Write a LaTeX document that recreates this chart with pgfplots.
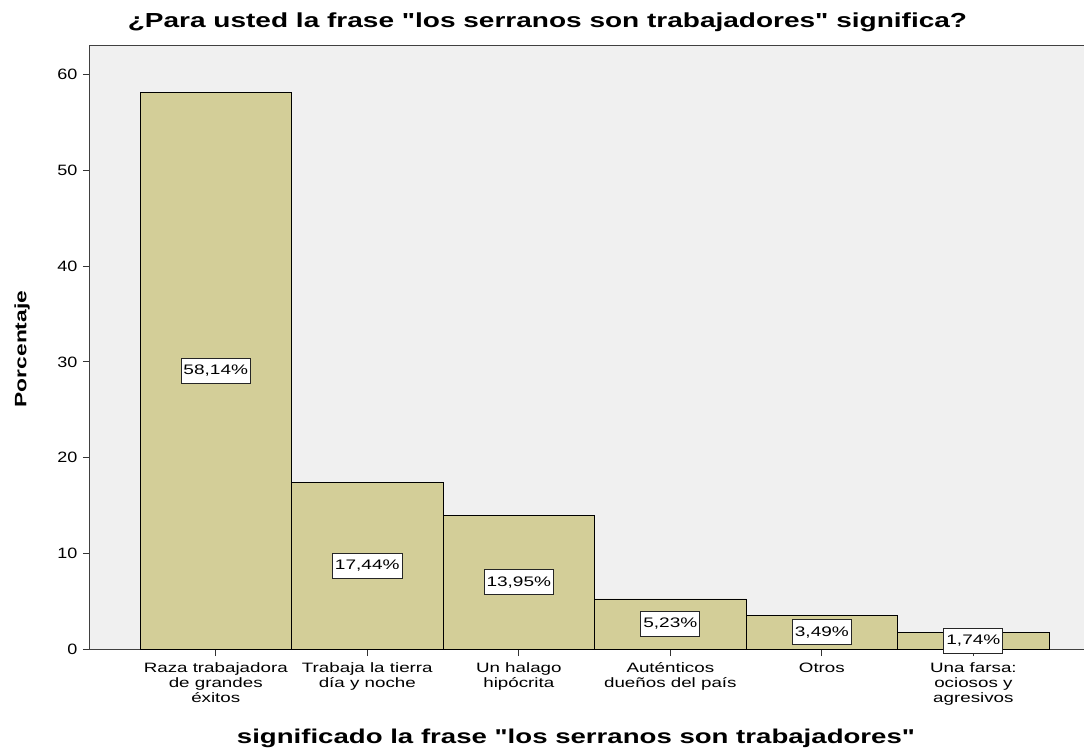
\documentclass[border=0pt]{standalone}
\usepackage{fontspec}
\usepackage{pgfplots}
\pgfplotsset{compat=1.18}
\newfontfamily\tickf[FakeStretch=1.2]{Liberation Sans}
\newfontfamily\catf[FakeStretch=1.38]{Liberation Sans}
\newfontfamily\boldf[FakeStretch=1.38]{Liberation Sans}
\definecolor{barcol}{RGB}{211,206,152}
\definecolor{bgcol}{RGB}{240,240,240}
\begin{document}
\begin{tikzpicture}
\useasboundingbox (-90pt,-104pt) rectangle (994pt,649pt);
\begin{axis}[
  at={(0pt,0pt)}, anchor=south west,
  scale only axis, width=994pt, height=603pt,
  xmin=-0.83, xmax=5.73, ymin=0, ymax=63,
  axis background/.style={fill=bgcol},
  axis line style={draw=black!75, line width=1pt},
  ytick={0,10,20,30,40,50,60},
  xtick={0,1,2,3,4,5},
  xticklabels={{Raza trabajadora\\de grandes\\éxitos},{Trabaja la tierra\\día y noche},{Un halago\\hipócrita},{Auténticos\\dueños del país},{Otros},{Una farsa:\\ociosos y\\agresivos}},
  tick align=outside, major tick length=7pt,
  tick style={draw=black!80, line width=1pt},
  xtick pos=bottom, ytick pos=left,
  /pgf/number format/assume math mode=true,
  yticklabel style={font=\tickf\fontsize{15}{16}\selectfont, xshift=-2pt},
  xticklabel style={font=\catf\fontsize{13.6}{15.2}\selectfont, align=center, yshift=-3pt},
  clip=false,
]
\addplot[ybar, bar width=1, fill=barcol, draw=black, line width=0.8pt]
  coordinates {(0,58.14) (1,17.44) (2,13.95) (3,5.23) (4,3.49) (5,1.74)};
\addplot[draw=none, mark=none, nodes near coords, point meta=explicit symbolic,
  every node near coord/.style={anchor=center, draw=black!85, line width=0.9pt, fill=white,
    font=\catf\fontsize{13.8}{14}\selectfont, inner xsep=2.5pt, minimum height=25pt}]
  table[meta=lab] {
x y lab
0 29.07 58,14\%
1 8.72 17,44\%
2 6.975 13,95\%
3 2.615 5,23\%
4 1.745 3,49\%
5 0.87 1,74\%
};
\end{axis}
\node[font=\boldf\bfseries\fontsize{20.3}{22}\selectfont] at (457.5pt,627pt) {¿Para usted la frase "los serranos son trabajadores" significa?};
\node[font=\boldf\bfseries\fontsize{20}{22}\selectfont] at (486pt,-89pt) {significado la frase "los serranos son trabajadores"};
\node[rotate=90, font=\boldf\bfseries\fontsize{16.5}{18}\selectfont] at (-68pt,300pt) {Porcentaje};
\end{tikzpicture}
\end{document}
